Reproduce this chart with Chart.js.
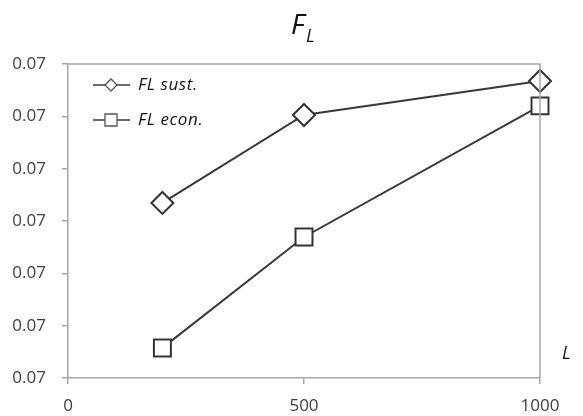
<!DOCTYPE html>
<html>
<head>
<meta charset="utf-8">
<script src="https://cdn.jsdelivr.net/npm/chart.js@4.4.1/dist/chart.umd.min.js"></script>
<style>
  html, body { margin: 0; padding: 0; background: #fff; }
  #wrap { width: 583px; height: 416px; position: relative; }
</style>
</head>
<body>
<div id="wrap"><canvas id="flChart"></canvas></div>
<script>
// data
const xValues = [200, 500, 1000];
const sustValues = [0.070669, 0.071005, 0.071135];
const econValues = [0.070115, 0.070539, 0.071040];
const xTicks = [0, 500, 1000];
const seriesNames = ['FL sust.', 'FL econ.'];

const lineColor = '#383838';
const axisColor = '#a6a6a6';
const textColor = '#404040';
const fontFamily = "'Open Sans', 'DejaVu Sans', sans-serif";

// title, axis name, frame and inside legend
const extras = {
  id: 'extras',
  afterDraw(chart) {
    const ctx = chart.ctx;
    const a = chart.chartArea;
    ctx.save();

    // frame on top / right
    ctx.strokeStyle = axisColor;
    ctx.lineWidth = 1.5;
    ctx.beginPath();
    ctx.moveTo(a.left, a.top);
    ctx.lineTo(a.right, a.top);
    ctx.lineTo(a.right, a.bottom);
    ctx.stroke();
    ctx.restore();
  },
  afterDatasetsDraw(chart) {
    const ctx = chart.ctx;
    ctx.save();
    // title F_L
    ctx.fillStyle = '#111';
    ctx.textBaseline = 'alphabetic';
    ctx.textAlign = 'left';
    ctx.font = 'italic 28px ' + fontFamily;
    ctx.fillText('F', 291, 34);
    ctx.font = 'italic 18px ' + fontFamily;
    ctx.fillText('L', 306, 42);

    // x axis name
    ctx.font = 'italic 18px ' + fontFamily;
    ctx.fillText('L', 562, 359);

    // legend
    const items = [
      { y: 85, style: 'rectRot', r: 6, text: seriesNames[0] },
      { y: 120, style: 'rect', r: 8.5, text: seriesNames[1] }
    ];
    ctx.font = 'italic 17px ' + fontFamily;
    ctx.letterSpacing = '0.6px';
    ctx.textBaseline = 'middle';
    items.forEach(it => {
      ctx.strokeStyle = lineColor;
      ctx.lineWidth = 1.3;
      ctx.beginPath();
      ctx.moveTo(93, it.y);
      ctx.lineTo(130, it.y);
      ctx.stroke();
      ctx.fillStyle = '#fff';
      ctx.strokeStyle = '#555';
      Chart.helpers.drawPoint(ctx, { pointStyle: it.style, radius: it.r, borderWidth: 1.2 }, 111, it.y);
      ctx.fillStyle = '#111';
      ctx.fillText(it.text, 138, it.y);
    });
    ctx.restore();
  }
};

const ctxFl = document.getElementById('flChart').getContext('2d');
new Chart(ctxFl, {
  type: 'line',
  data: {
    datasets: [
      {
        label: seriesNames[0],
        data: xValues.map((x, i) => ({ x: x, y: sustValues[i] })),
        borderColor: lineColor,
        borderWidth: 2,
        clip: false,
        pointStyle: 'rectRot',
        pointRadius: 11,
        pointBorderWidth: 2,
        pointBackgroundColor: '#fff',
        pointBorderColor: '#333'
      },
      {
        label: seriesNames[1],
        data: xValues.map((x, i) => ({ x: x, y: econValues[i] })),
        borderColor: lineColor,
        borderWidth: 2,
        clip: false,
        pointStyle: 'rect',
        pointRadius: 12,
        pointBorderWidth: 2,
        pointBackgroundColor: '#fff',
        pointBorderColor: '#333'
      }
    ]
  },
  options: {
    responsive: true,
    maintainAspectRatio: false,
    animation: false,
    layout: { padding: { top: 64, right: 43, left: 9, bottom: 0 } },
    scales: {
      x: {
        type: 'linear',
        min: 0,
        max: 1000,
        afterBuildTicks: axis => { axis.ticks = xTicks.map(v => ({ value: v })); },
        afterFit: axis => { axis.height = 38; },
        grid: { drawOnChartArea: false, color: axisColor, tickLength: 6, lineWidth: 1.5 },
        border: { color: axisColor, width: 1.5 },
        ticks: {
          color: textColor,
          font: { family: fontFamily, size: 17 },
          padding: 12,
          maxRotation: 0,
          callback: v => String(v)
        }
      },
      y: {
        min: 0.0700,
        max: 0.0712,
        afterFit: axis => { axis.width = 59; },
        ticks: {
          stepSize: 0.0002,
          color: textColor,
          font: { family: fontFamily, size: 17 },
          padding: 16,
          callback: v => v.toFixed(2)
        },
        grid: { drawOnChartArea: false, color: axisColor, tickLength: 6, lineWidth: 1.5 },
        border: { color: axisColor, width: 1.5 }
      }
    },
    plugins: {
      legend: { display: false },
      title: { display: false },
      tooltip: { enabled: false }
    }
  },
  plugins: [extras]
});
</script>
</body>
</html>
